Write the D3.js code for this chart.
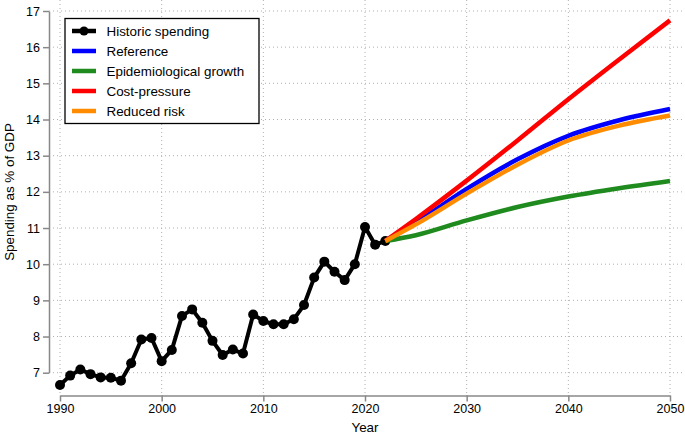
<!DOCTYPE html>
<meta charset="utf-8">
<script src="https://d3js.org/d3.v7.min.js"></script>
<style>
  body { margin: 0; background: #fff; }
  text { font-family: "Liberation Sans", Arial, Helvetica, sans-serif; }
</style>
<div id="my_dataviz"></div>
<script>

// historic spending, % of GDP
var histYears = d3.range(1990, 2023);
var histValues = [6.66, 6.92, 7.09, 6.96, 6.87, 6.86, 6.78, 7.26, 7.92, 7.96,
                  7.32, 7.63, 8.57, 8.75, 8.38, 7.88, 7.49, 7.64, 7.53, 8.61,
                  8.43, 8.34, 8.34, 8.48, 8.87, 9.63, 10.07, 9.79, 9.56, 10.0,
                  11.03, 10.54, 10.64];

// projections
var projYears = [2022, 2025, 2030, 2035, 2040, 2045, 2050];
var referenceValues = [10.64, 11.15, 12.08, 12.90, 13.55, 13.98, 14.29];
var epiValues       = [10.64, 10.80, 11.21, 11.58, 11.87, 12.10, 12.30];
var costValues      = [10.64, 11.25, 12.31, 13.42, 14.56, 15.66, 16.74];
var reducedValues   = [10.64, 11.10, 11.95, 12.75, 13.42, 13.83, 14.11];

var seriesNames  = ["Historic spending", "Reference", "Epidemiological growth", "Cost-pressure", "Reduced risk"];
var seriesColors = ["#000000", "#0000ff", "#1f8b1f", "#ff0000", "#ff8c00"];

var xTicks = [1990, 2000, 2010, 2020, 2030, 2040, 2050];
var yTicks = [7, 8, 9, 10, 11, 12, 13, 14, 15, 16, 17];

var width = 685, height = 435;

var svg = d3.select("#my_dataviz")
  .append("svg")
    .attr("width", width)
    .attr("height", height);

var x = d3.scaleLinear().domain([1990, 2050]).range([60, 670]);
var y = d3.scaleLinear().domain([7, 17]).range([372.7, 11]);

// dotted grid
svg.append("g").selectAll("line").data(yTicks).enter().append("line")
    .attr("x1", 49).attr("x2", 685)
    .attr("y1", function(d) { return y(d); }).attr("y2", function(d) { return y(d); })
    .attr("stroke", "#b0b0b0").attr("stroke-width", 1).attr("stroke-dasharray", "1,3");
svg.append("g").selectAll("line").data(xTicks).enter().append("line")
    .attr("y1", 0).attr("y2", 393)
    .attr("x1", function(d) { return x(d); }).attr("x2", function(d) { return x(d); })
    .attr("stroke", "#b0b0b0").attr("stroke-width", 1).attr("stroke-dasharray", "1,3");

// axes
var yAxis = svg.append("g")
    .attr("transform", "translate(49,0)")
    .call(d3.axisLeft(y).tickValues(yTicks).tickSize(6).tickSizeOuter(0).tickPadding(3));
var xAxis = svg.append("g")
    .attr("transform", "translate(0,395.5)")
    .call(d3.axisBottom(x).tickValues(xTicks).tickFormat(d3.format("d")).tickSize(6).tickSizeOuter(0).tickPadding(3));
[yAxis, xAxis].forEach(function(a) {
  a.select(".domain").attr("stroke", "#888").attr("stroke-width", 1.5);
  a.selectAll(".tick line").attr("stroke", "#888").attr("stroke-width", 1.5);
  a.selectAll(".tick text").attr("fill", "#000").style("font-size", "12.5px")
    .style("font-family", "'Liberation Sans', Arial, sans-serif");
});

svg.append("text")
    .attr("x", 365).attr("y", 431.5)
    .attr("text-anchor", "middle")
    .style("font-size", "13.4px")
    .text("Year");
svg.append("text")
    .attr("transform", "translate(14,192) rotate(-90)")
    .attr("text-anchor", "middle")
    .style("font-size", "13.4px")
    .text("Spending as % of GDP");

// historic series
var line = d3.line()
    .x(function(d) { return x(d[0]); })
    .y(function(d) { return y(d[1]); });
var hist = histYears.map(function(yr, i) { return [yr, histValues[i]]; });

svg.append("path")
    .datum(hist)
    .attr("d", line)
    .attr("fill", "none")
    .attr("stroke", "#000")
    .attr("stroke-width", 4)
    .attr("stroke-linejoin", "round");
svg.append("g").selectAll("circle").data(hist).enter().append("circle")
    .attr("cx", function(d) { return x(d[0]); })
    .attr("cy", function(d) { return y(d[1]); })
    .attr("r", 5)
    .attr("fill", "#000");

// projections
var projLine = d3.line()
    .curve(d3.curveMonotoneX)
    .x(function(d) { return x(d[0]); })
    .y(function(d) { return y(d[1]); });
[referenceValues, epiValues, costValues, reducedValues].forEach(function(vals, k) {
  svg.append("path")
      .datum(projYears.map(function(yr, i) { return [yr, vals[i]]; }))
      .attr("d", projLine)
      .attr("fill", "none")
      .attr("stroke", seriesColors[k + 1])
      .attr("stroke-width", 4.5);
});

// legend
var legend = svg.append("g");
legend.append("rect")
    .attr("x", 65).attr("y", 18.5).attr("width", 194).attr("height", 105)
    .attr("fill", "#fff").attr("stroke", "#000").attr("stroke-width", 1.3);
seriesNames.forEach(function(name, i) {
  var ly = 31 + i * 20;
  legend.append("line")
      .attr("x1", 72).attr("x2", 96).attr("y1", ly).attr("y2", ly)
      .attr("stroke", seriesColors[i]).attr("stroke-width", 4.5);
  if (i === 0) {
    legend.append("circle").attr("cx", 84).attr("cy", ly).attr("r", 4.5).attr("fill", "#000");
  }
  legend.append("text")
      .attr("x", 106.5).attr("y", ly)
      .attr("dy", "0.36em")
      .style("font-size", "13.4px")
      .text(name);
});

</script>
